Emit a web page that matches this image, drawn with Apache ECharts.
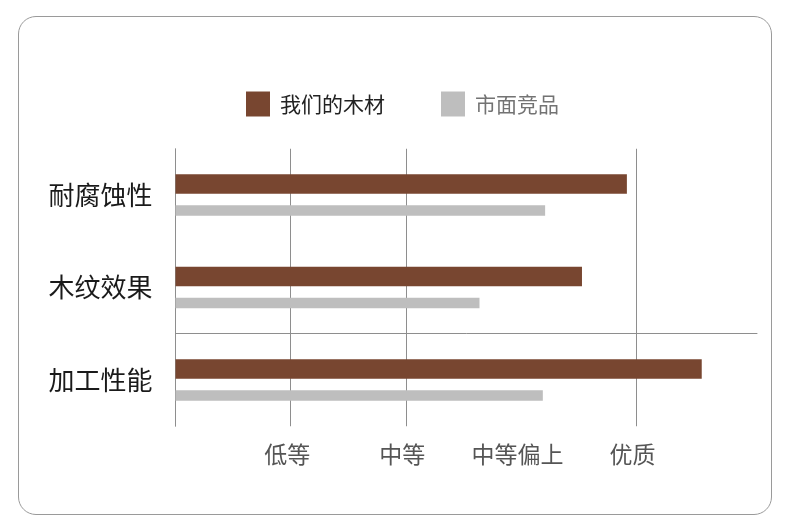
<!DOCTYPE html>
<html>
<head>
<meta charset="utf-8">
<script src="https://cdn.jsdelivr.net/npm/echarts@6/dist/echarts.min.js"></script>
<style>
  html, body { margin: 0; padding: 0; background: #fff; }
  #wrap { position: relative; width: 790px; height: 515px; }
  #chart { position: absolute; left: 0; top: 0; width: 790px; height: 515px; }
  #frame { position: absolute; left: 18px; top: 16px; width: 752px; height: 497px;
           border: 1px solid #9a9a9a; border-radius: 18px; pointer-events: none; }
</style>
</head>
<body>
<div id="wrap">
  <div id="chart"></div>
  <div id="frame"></div>
</div>
<script>
// ---- data ----
const categories = ['耐腐蚀性', '木纹效果', '加工性能'];
const seriesNames = ['我们的木材', '市面竞品'];
const ourWood = [3.92, 3.53, 4.57];
const marketWood = [3.21, 2.64, 3.19];
const tickLabels = ['', '低等', '中等', '中等偏上', '优质', ''];
const gridLineValues = [1, 2, 4];

const FONT = '"Noto Sans CJK SC", "Noto Sans", sans-serif';
const LINE = '#8e8e8e';
const chart = echarts.init(document.getElementById('chart'), null, { renderer: 'canvas' });

chart.setOption({
  animation: false,
  backgroundColor: 'transparent',
  legend: {
    left: 246,
    top: 91.5,
    padding: 0,
    itemWidth: 24,
    itemHeight: 25,
    itemGap: 56,
    icon: 'rect',
    textStyle: { fontFamily: FONT, fontSize: 21, padding: [0, 0, 0, 5] },
    data: [
      { name: seriesNames[0], textStyle: { color: '#222' } },
      { name: seriesNames[1], textStyle: { color: '#737373' } }
    ]
  },
  grid: [
    { left: 175.5, top: 148.75, height: 277.5, width: 575.75, containLabel: false },
    { left: 175.5, top: 333.25, height: 40, width: 581.5, containLabel: false }
  ],
  xAxis: [
    {
      gridIndex: 0,
      type: 'value',
      min: 0,
      max: 5,
      interval: 1,
      axisLine: { show: false },
      axisTick: { show: false },
      splitLine: { show: false },
      axisLabel: {
        margin: 17,
        padding: [0, 7, 0, 0],
        fontFamily: FONT,
        fontSize: 23,
        color: '#555',
        formatter: function (v) { return tickLabels[Math.round(v)] || ''; }
      }
    },
    {
      gridIndex: 1,
      type: 'value',
      position: 'top',
      min: 0,
      max: 1,
      axisLine: { show: true, onZero: false, lineStyle: { color: LINE, width: 1 } },
      axisTick: { show: false },
      axisLabel: { show: false },
      splitLine: { show: false }
    }
  ],
  yAxis: [
    {
      gridIndex: 0,
      type: 'category',
      inverse: true,
      data: categories,
      axisLine: { show: true, lineStyle: { color: LINE, width: 1 } },
      axisTick: { show: false },
      splitLine: { show: false },
      axisLabel: {
        margin: 23,
        fontFamily: FONT,
        fontSize: 26,
        color: '#1a1a1a'
      }
    },
    {
      gridIndex: 1,
      type: 'value',
      show: false,
      min: 0,
      max: 1
    }
  ],
  series: [
    {
      name: seriesNames[0],
      type: 'bar',
      xAxisIndex: 0,
      yAxisIndex: 0,
      data: ourWood,
      barWidth: 19.5,
      barGap: '58%',
      itemStyle: { color: '#784630' },
      emphasis: { disabled: true },
      markLine: {
        silent: true,
        symbol: ['none', 'none'],
        label: { show: false },
        lineStyle: { color: LINE, width: 1, type: 'solid' },
        data: gridLineValues.map(function (v) { return { xAxis: v }; }),
        z: 1
      }
    },
    {
      name: seriesNames[1],
      type: 'bar',
      xAxisIndex: 0,
      yAxisIndex: 0,
      data: marketWood,
      barWidth: 10.5,
      itemStyle: { color: '#bebebe' },
      emphasis: { disabled: true }
    }
  ]
});
</script>
</body>
</html>
